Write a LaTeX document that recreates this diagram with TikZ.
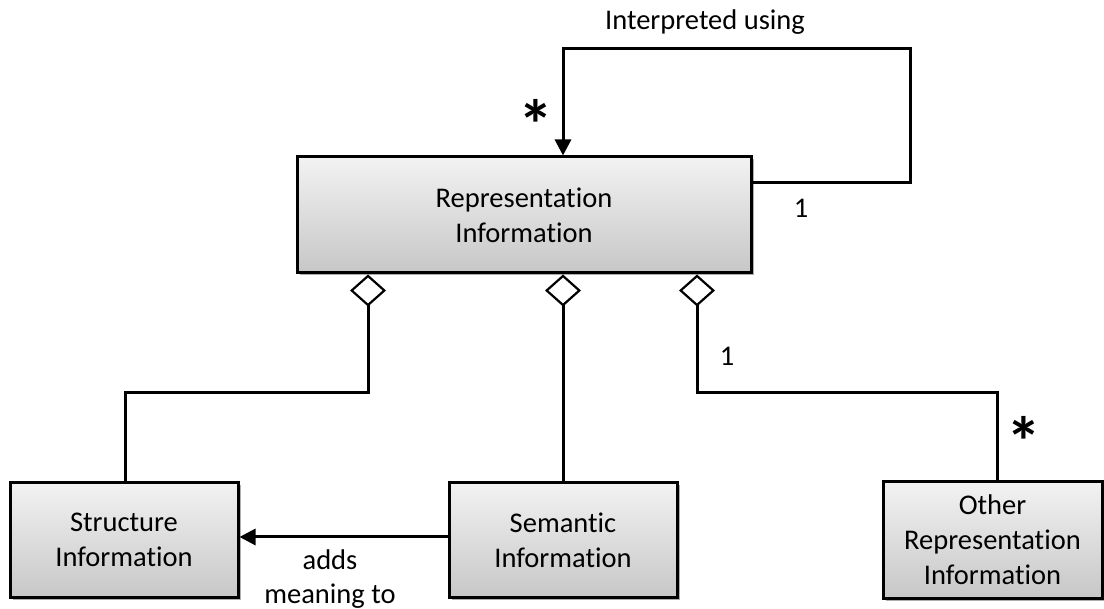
\documentclass[tikz,border=0pt]{standalone}
\usepackage{fontspec}
\setmainfont[Ligatures={NoCommon}]{Carlito}
\usetikzlibrary{arrows.meta,shadows}
\begin{document}
\begin{tikzpicture}[x=1pt,y=-1pt,
  cls/.style={draw=black, line width=3pt, top color=black!5, bottom color=black!22,
    align=center, font=\fontsize{28.5}{35}\selectfont, inner sep=0pt,
    drop shadow={shadow xshift=2.5pt, shadow yshift=-2.5pt, fill=black!45, opacity=0.7}},
  conn/.style={line width=3pt, draw=black},
  agg/.style={{Diamond[open, fill=white, length=32pt, width=36pt, line width=2.2pt]}-},
  nav/.style={-{Triangle[length=16pt, width=16pt]}},
  lbl/.style={font=\fontsize{28.5}{34}\selectfont, align=center, inner sep=0pt},
  mult/.style={font=\bfseries\fontsize{70}{70}\selectfont, inner sep=0pt}]
\path[use as bounding box, fill=white] (0,0) rectangle (1104,609);

\node[cls, minimum width=454pt, minimum height=116pt] (main) at (524,215) {Representation\\Information};
\node[cls, minimum width=228pt, minimum height=115pt] (struct) at (124,540) {Structure\\Information};
\node[cls, minimum width=228pt, minimum height=115pt] (sem) at (563,540) {Semantic\\Information};
\node[cls, minimum width=219pt, minimum height=116pt] (other) at (992.5,540) {Other\\Representation\\Information};

% self association
\coordinate (r) at (910,183);
\coordinate (tr) at (910,49);
\coordinate (tl) at (563,49);
\draw[conn, nav] (main.east |- r) -- (r) -- (tr) -- (tl) -- (main.north -| tl);
\node[lbl] (interp) at (705,22) {Interpreted using};
\node[mult] (star1) at (536,124) {*};
\node[lbl] (one1) at (801,208) {1};

% aggregations
\coordinate (a1) at (368,393);
\coordinate (s1) at (125,393);
\draw[conn, agg] (main.south -| a1) -- (a1) -- (s1) -- (struct.north -| s1);

\draw[conn, agg] (main.south -| sem) -- (sem.north);

\coordinate (a3) at (697,393);
\coordinate (o1) at (997,393);
\draw[conn, agg] (main.south -| a3) -- (a3) -- (o1) -- (other.north -| o1);
\node[lbl] (one2) at (727,356) {1};
\node[mult] (star2) at (1024,441) {*};

% adds meaning to
\draw[conn, nav] (sem.west |- 0,537) -- (struct.east |- 0,537);
\node[lbl] (adds) at (330,579) {adds\\meaning to};
\end{tikzpicture}
\end{document}
